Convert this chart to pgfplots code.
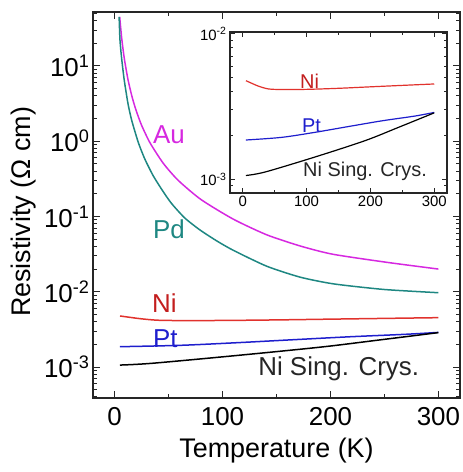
\documentclass[border=0pt]{standalone}
\usepackage{fontspec}
\setmainfont{Liberation Sans}
\usepackage{pgfplots}
\usepackage{pgfplotstable}
\pgfplotsset{compat=1.18}

\definecolor{auC}{RGB}{214,40,224}
\definecolor{pdC}{RGB}{30,135,130}
\definecolor{niC}{RGB}{225,50,45}
\definecolor{niT}{RGB}{195,30,30}
\definecolor{ptC}{RGB}{30,30,205}

\newcommand{\ep}[1]{10\textsuperscript{#1}}

% resistivity (Ohm cm) versus temperature (K)
\pgfplotstableread{
T rho
4.75 45
5.0 40.6
6.6 23.3
9.0 12.55
12.4 6.61
16 3.98
19.8 2.60
25 1.63
32.8 0.953
45 0.511
58.8 0.303
80 0.168
110 0.092
141 0.057
172 0.0405
202 0.0315
252 0.0246
300 0.0200
}\tabAu
\pgfplotstableread{
T rho
4.2 45
5.0 22
6.5 12.7
8.7 6.88
10.5 4.63
12.7 3.0
16 1.86
22 0.96
28 0.58
35.9 0.345
45 0.214
52.9 0.148
65 0.0955
79.2 0.066
95 0.047
110 0.0355
141 0.0218
172 0.0156
203 0.0127
250 0.0107
300 0.0097
}\tabPd
\pgfplotstableread{
T rho
5 4.76e-3
15 4.55e-3
25 4.36e-3
40 4.18e-3
60 4.14e-3
100 4.15e-3
150 4.22e-3
200 4.32e-3
250 4.42e-3
300 4.52e-3
}\tabNi
\pgfplotstableread{
T rho
5 1.86e-3
61 1.94e-3
113 2.10e-3
165 2.30e-3
218 2.52e-3
270 2.72e-3
300 2.88e-3
}\tabPt
\pgfplotstableread{
T rho
5 1.06e-3
35 1.12e-3
113 1.42e-3
191.5 1.84e-3
243.7 2.27e-3
300 2.86e-3
}\tabNiSC

\begin{document}
\begin{tikzpicture}
\path[use as bounding box] (0,0) rectangle (463bp,472bp);

\begin{axis}[
  scale only axis,
  ymode=log,
  xmin=-20, xmax=320,
  xtick={0,100,200,300},
  minor xtick={50,150,250},
  tick align=inside,
  axis line style={line width=1.2bp, black!85},
  every tick/.style={line width=0.9bp, black!85},
  /pgf/number format/assume math mode=true,
  at={(93bp,74bp)}, anchor=south west,
  width=367bp, height=386bp,
  ymin=3.87e-4, ymax=52.1,
  ytick={1e-3,1e-2,1e-1,1,10},
  yticklabels={\ep{-3},\ep{-2},\ep{-1},\ep{0},\ep{1}},
  minor ytick={4e-4,5e-4,6e-4,7e-4,8e-4,9e-4,
    2e-3,3e-3,4e-3,5e-3,6e-3,7e-3,8e-3,9e-3,
    2e-2,3e-2,4e-2,5e-2,6e-2,7e-2,8e-2,9e-2,
    0.2,0.3,0.4,0.5,0.6,0.7,0.8,0.9,
    2,3,4,5,6,7,8,9,20,30,40,50},
  major tick length=7bp, minor tick length=4bp,
  ticklabel style={font=\fontsize{26}{30}\selectfont},
  xticklabel style={yshift=-8bp, inner sep=1bp},
  label style={font=\fontsize{27}{32}\selectfont},
  xlabel={Temperature (K)},
  ylabel={Resistivity (Ω cm)},
  xlabel style={at={(rel axis cs:0.5,0)}, anchor=center, yshift=-53bp, inner sep=1bp},
  ylabel style={at={(rel axis cs:-0.188,0.482)}, anchor=center},
]
\addplot[auC, line width=1.5bp, smooth, tension=0.4] table[x=T,y=rho] {\tabAu};
\addplot[pdC, line width=1.5bp, smooth, tension=0.4] table[x=T,y=rho] {\tabPd};
\addplot[niC, line width=1.5bp, smooth, tension=0.5] table[x=T,y=rho] {\tabNi};
\addplot[ptC, line width=1.5bp, smooth, tension=0.5] table[x=T,y=rho] {\tabPt};
\addplot[black, line width=1.5bp, smooth, tension=0.5] table[x=T,y=rho] {\tabNiSC};

\node[auC, anchor=base west, inner sep=0pt, font=\fontsize{26}{30}\selectfont] at (axis cs:35.6,0.944) {Au};
\node[pdC, anchor=base west, inner sep=0pt, font=\fontsize{26}{30}\selectfont] at (axis cs:35.6,0.0516) {Pd};
\node[niT, anchor=base west, inner sep=0pt, font=\fontsize{26}{30}\selectfont] at (axis cs:34.7,5.37e-3) {Ni};
\node[ptC, anchor=base west, inner sep=0pt, font=\fontsize{26}{30}\selectfont] at (axis cs:35.6,1.79e-3) {Pt};
\node[black!85, anchor=base west, inner sep=0pt, font=\fontsize{26}{30}\selectfont] at (axis cs:133,7.6e-4) {Ni Sing. Crys.};
\end{axis}

\begin{axis}[
  scale only axis,
  ymode=log,
  xmin=-20, xmax=320,
  xtick={0,100,200,300},
  minor xtick={50,150,250},
  tick align=inside,
  axis line style={line width=1.2bp, black!85},
  every tick/.style={line width=0.9bp, black!85},
  /pgf/number format/assume math mode=true,
  at={(230bp,279bp)}, anchor=south west,
  width=217bp, height=161bp,
  ymin=8.03e-4, ymax=1.03e-2,
  ytick={1e-3,1e-2},
  yticklabels={\ep{-3},\ep{-2}},
  minor ytick={9e-4,2e-3,3e-3,4e-3,5e-3,6e-3,7e-3,8e-3,9e-3},
  major tick length=5bp, minor tick length=3bp,
  ticklabel style={font=\fontsize{15}{18}\selectfont},
  axis background/.style={fill=white},
]
\addplot[niC, line width=1.2bp, smooth, tension=0.5] table[x=T,y=rho] {\tabNi};
\addplot[ptC, line width=1.2bp, smooth, tension=0.5] table[x=T,y=rho] {\tabPt};
\addplot[black, line width=1.2bp, smooth, tension=0.5] table[x=T,y=rho] {\tabNiSC};

\node[niT, anchor=base west, inner sep=0pt, font=\fontsize{20}{24}\selectfont] at (axis cs:89.7,4.23e-3) {Ni};
\node[ptC, anchor=base west, inner sep=0pt, font=\fontsize{20}{24}\selectfont] at (axis cs:92.8,2.09e-3) {Pt};
\node[black!85, anchor=base west, inner sep=0pt, font=\fontsize{20}{24}\selectfont] at (axis cs:94.4,1.05e-3) {Ni Sing. Crys.};
\end{axis}
\end{tikzpicture}
\end{document}
